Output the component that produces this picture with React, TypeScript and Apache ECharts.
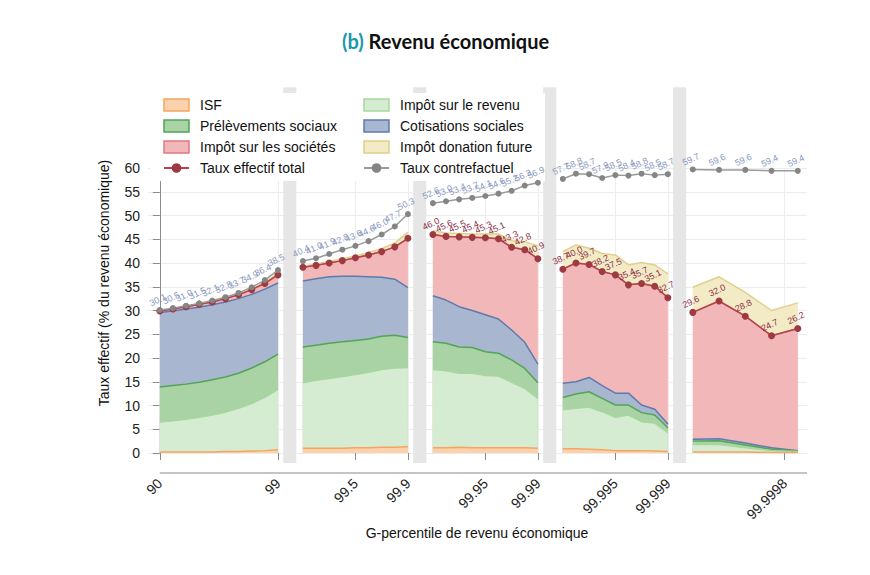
import React, { useEffect, useRef } from "react";
import * as echarts from "echarts";

// ---- x positions (g-percentiles) per panel ----
const panelPercentiles: number[][] = [
  [90, 91, 92, 93, 94, 95, 96, 97, 98, 99],
  [99.1, 99.2, 99.3, 99.4, 99.5, 99.6, 99.7, 99.8, 99.9],
  [99.91, 99.92, 99.93, 99.94, 99.95, 99.96, 99.97, 99.98, 99.99],
  [99.991, 99.992, 99.993, 99.994, 99.995, 99.996, 99.997, 99.998, 99.999],
  [99.9991, 99.9993, 99.9995, 99.9997, 99.9999],
];
// piecewise scale: each panel is zoomed by 10x
const panelStart = [90, 99, 99.9, 99.99, 99.999];
const panelEnd = [99, 99.9, 99.99, 99.999, 100];
const panelStep = [1, 0.1, 0.01, 0.001, 0.0001];
const panelOffset = [0, 9.9, 19.8, 29.7, 39.6];

const tickPercentiles = [90, 99, 99.5, 99.9, 99.95, 99.99, 99.995, 99.999, 99.9998];
const tickLabels = ["90", "99", "99.5", "99.9", "99.95", "99.99", "99.995", "99.999", "99.9998"];

// ---- series values (% of economic income), per panel ----
const isf = [
  [0.2, 0.2, 0.2, 0.2, 0.2, 0.3, 0.3, 0.4, 0.5, 0.7],
  [1.0, 1.0, 1.0, 1.0, 1.1, 1.1, 1.2, 1.2, 1.3],
  [1.1, 1.1, 1.2, 1.1, 1.1, 1.1, 1.1, 1.1, 1.0],
  [0.9, 0.9, 0.8, 0.7, 0.5, 0.5, 0.5, 0.4, 0.3],
  [0.2, 0.2, 0.2, 0.1, 0.1],
];
const impotRevenu = [
  [6.3, 6.6, 6.9, 7.3, 7.8, 8.3, 9.1, 10.0, 11.2, 12.7],
  [13.8, 14.3, 14.7, 15.1, 15.4, 15.9, 16.4, 16.7, 16.7],
  [16.5, 16.2, 15.6, 15.7, 15.2, 15.1, 13.8, 12.5, 10.5],
  [8.2, 8.5, 8.9, 8.0, 7.0, 7.5, 6.1, 5.9, 4.0],
  [1.6, 1.6, 0.9, 0.4, 0.2],
];
const prelevSociaux = [
  [7.4, 7.4, 7.4, 7.4, 7.4, 7.4, 7.4, 7.5, 7.5, 7.4],
  [7.5, 7.4, 7.4, 7.3, 7.2, 7.0, 7.0, 6.9, 6.3],
  [5.8, 5.8, 5.5, 5.4, 5.0, 4.8, 4.7, 4.2, 3.3],
  [2.6, 3.0, 3.2, 2.8, 2.6, 2.1, 1.9, 1.7, 1.0],
  [0.7, 0.8, 0.6, 0.3, 0.1],
];
const cotisSociales = [
  [15.7, 15.7, 15.8, 15.8, 15.8, 15.8, 15.7, 15.5, 15.3, 15.0],
  [13.9, 14.0, 14.0, 13.8, 13.5, 13.1, 12.4, 11.8, 10.5],
  [9.7, 9.1, 8.5, 7.8, 7.8, 7.2, 6.3, 5.5, 3.9],
  [3.0, 2.6, 3.0, 2.7, 2.5, 2.5, 1.6, 1.2, 0.8],
  [0.4, 0.4, 0.4, 0.3, 0.1],
];
const impotSocietes = [
  [0.3, 0.4, 0.5, 0.6, 0.6, 0.7, 0.8, 1.0, 1.2, 1.7],
  [2.9, 2.8, 2.9, 3.3, 3.9, 4.6, 5.4, 6.8, 10.4],
  [12.9, 13.4, 14.7, 15.4, 16.2, 16.9, 17.4, 19.5, 22.2],
  [24.0, 25.0, 23.8, 24.0, 24.9, 22.8, 25.6, 25.9, 26.6],
  [26.7, 29.0, 26.7, 23.6, 25.7],
];
const donationFuture = [
  [0.1, 0.1, 0.1, 0.1, 0.1, 0.1, 0.1, 0.2, 0.2, 0.3],
  [0.2, 0.3, 0.3, 0.4, 0.4, 0.5, 0.6, 0.8, 1.3],
  [0.8, 0.7, 0.7, 0.7, 0.8, 1.0, 1.4, 1.7, 2.7],
  [3.7, 3.8, 3.4, 3.8, 4.2, 4.2, 4.4, 4.5, 5.0],
  [5.3, 5.1, 5.0, 5.3, 5.4],
];
const tauxEffectifTotal = [
  [29.9, 30.3, 30.8, 31.3, 31.8, 32.5, 33.3, 34.4, 35.7, 37.5],
  [39.1, 39.5, 40.0, 40.5, 41.1, 41.7, 42.4, 43.4, 45.2],
  [46.0, 45.6, 45.5, 45.4, 45.3, 45.1, 43.3, 42.8, 40.9],
  [38.7, 40.0, 39.7, 38.2, 37.5, 35.4, 35.7, 35.1, 32.7],
  [29.6, 32.0, 28.8, 24.7, 26.2],
];
const tauxContrefactuel = [
  [30.1, 30.5, 31.0, 31.5, 32.1, 32.8, 33.7, 34.9, 36.4, 38.5],
  [40.4, 41.0, 41.9, 42.8, 43.6, 44.6, 46.0, 47.7, 50.3],
  [52.6, 53.0, 53.4, 53.7, 54.1, 54.6, 55.2, 56.3, 56.9],
  [57.7, 58.8, 58.7, 57.9, 58.5, 58.4, 58.8, 58.5, 58.7],
  [59.7, 59.6, 59.6, 59.4, 59.4],
];
const totalLabelShown = [false, false, true, true, true];

const FONT = "'Liberation Sans', Arial, sans-serif";
const X_MIN = -0.9;
const X_MAX = 49.3;

const layerDefs = [
  { name: "ISF", values: isf, fill: "#fdd1ab", stroke: "#f6a560" },
  { name: "Impôt sur le revenu", values: impotRevenu, fill: "#d5ecd2", stroke: "#a6d89c" },
  { name: "Prélèvements sociaux", values: prelevSociaux, fill: "#a9d3a4", stroke: "#52a555" },
  { name: "Cotisations sociales", values: cotisSociales, fill: "#a8b6cf", stroke: "#5d7bad" },
  { name: "Impôt sur les sociétés", values: impotSocietes, fill: "#f2b7b9", stroke: "#e27a80" },
  { name: "Impôt donation future", values: donationFuture, fill: "#f3ebc6", stroke: "#dfd08c" },
];

function panelOf(p: number): number {
  for (let k = 0; k < panelEnd.length; k++) if (p <= panelEnd[k] + 1e-9) return k;
  return panelEnd.length - 1;
}
function toU(k: number, p: number): number {
  return panelOffset[k] + (p - panelStart[k]) / panelStep[k];
}

function build(values: number[][], labelPanels?: boolean[]) {
  const out: any[] = [];
  values.forEach((arr, k) => {
    if (k > 0) out.push([panelOffset[k], null]);
    arr.forEach((v, i) => {
      const pt = [toU(k, panelPercentiles[k][i]), v];
      if (labelPanels) out.push({ value: pt, label: { show: labelPanels[k] } });
      else out.push(pt);
    });
  });
  return out;
}

// cumulative tops of the stacked layers (sum of the layers below + own)
function cumulative(upTo: number): number[][] {
  return panelPercentiles.map((arr, k) =>
    arr.map((_, i) => {
      let s = 0;
      for (let j = 0; j <= upTo; j++) s += layerDefs[j].values[k][i];
      return Math.round(s * 100) / 100;
    })
  );
}

const tickU = tickPercentiles.map((p) => toU(panelOf(p), p));

export default function App() {
  const ref = useRef<HTMLDivElement>(null);
  useEffect(() => {
    document.body.style.margin = "0";
    const chart = echarts.init(ref.current!, undefined, { renderer: "svg" });

    // draw from the top layer down, each area filled to 0, so lower layers cover upper ones
    const areaSeries = layerDefs
      .map((d, j) => ({
        name: d.name,
        type: "line",
        data: build(cumulative(j)),
        symbol: "none",
        connectNulls: false,
        lineStyle: { color: d.stroke, width: 1.5 },
        itemStyle: { color: d.fill, borderColor: d.stroke },
        areaStyle: { color: d.fill, opacity: 1, origin: 0 },
        z: 2,
      }))
      .reverse();

    const legendText = { fontSize: 14, fontFamily: FONT, color: "#111", lineHeight: 14, padding: [0, 0, 0, 6] };
    const legIcon = (i: number) => ({
      name: layerDefs[i].name,
      icon: "rect",
      itemStyle: { color: layerDefs[i].fill, borderColor: layerDefs[i].stroke, borderWidth: 1.5 },
    });

    const option: any = {
      animation: false,
      title: {
        text: "{a|(b)} {b|Revenu économique}",
        left: 337,
        top: 26,
        textStyle: {
          fontSize: 20,
          fontFamily: "Lato",
          fontWeight: "bold",
          rich: {
            a: { color: "#1a97ad", fontSize: 20, fontWeight: "bold", fontFamily: "Lato" },
            b: { color: "#111", fontSize: 20, fontWeight: "bold", fontFamily: "Lato" },
          },
        },
      },
      grid: { left: 148, right: 63, top: 168, bottom: 122, containLabel: false },
      xAxis: {
        type: "value",
        min: X_MIN,
        max: X_MAX,
        offset: 20,
        axisLine: { show: false },
        axisTick: { show: true, length: 7, customValues: tickU, lineStyle: { color: "#8c8c8c" } },
        axisLabel: {
          customValues: tickU,
          rotate: 45,
          margin: 8,
          fontSize: 14,
          fontFamily: FONT,
          color: "#222",
          formatter: (val: number) => {
            let best = 0;
            tickU.forEach((u, i) => {
              if (Math.abs(u - val) < Math.abs(tickU[best] - val)) best = i;
            });
            return tickLabels[best];
          },
        },
        splitLine: { show: true, lineStyle: { color: "#ededed", width: 1 } },
      },
      yAxis: {
        type: "value",
        min: 0,
        max: 60,
        interval: 5,
        axisLine: { show: true, lineStyle: { color: "#8c8c8c" } },
        axisTick: { show: true, length: 7, lineStyle: { color: "#8c8c8c" } },
        axisLabel: { fontSize: 14, fontFamily: FONT, color: "#222", margin: 8 },
        splitLine: { show: true, lineStyle: { color: "#ececec", width: 1 } },
      },
      legend: [
        {
          orient: "vertical",
          left: 163,
          top: 98,
          itemWidth: 25,
          itemHeight: 12,
          itemGap: 7,
          padding: 0,
          z: 10,
          textStyle: legendText,
          data: [legIcon(0), legIcon(2), legIcon(4), { name: "Taux effectif total" }],
        },
        {
          orient: "vertical",
          left: 363,
          top: 98,
          itemWidth: 25,
          itemHeight: 12,
          itemGap: 7,
          padding: 0,
          z: 10,
          textStyle: legendText,
          data: [legIcon(1), legIcon(3), legIcon(5), { name: "Taux contrefactuel" }],
        },
      ],
      graphic: [
        { type: "rect", z: 3, shape: { x: 150, y: 93, width: 395, height: 88 }, style: { fill: "#fff" }, silent: true },
        {
          type: "text",
          x: 104,
          y: 283,
          rotation: Math.PI / 2,
          style: {
            text: "Taux effectif (% du revenu économique)",
            fontSize: 14,
            fontFamily: FONT,
            fill: "#111",
            align: "center",
            verticalAlign: "middle",
          },
        },
        {
          type: "text",
          x: 477,
          y: 533,
          style: {
            text: "G-percentile de revenu économique",
            fontSize: 14,
            fontFamily: FONT,
            fill: "#111",
            align: "center",
            verticalAlign: "middle",
          },
        },
      ],
      series: [
        {
          name: "bands",
          type: "custom",
          z: 1,
          clip: false,
          silent: true,
          data: panelOffset.slice(1).map((u) => [u, 0]),
          renderItem: (params: any, api: any) => {
            const u = api.value(0);
            const a = api.coord([u - 0.5, 77]);
            const b = api.coord([u + 0.5, -2.1]);
            return {
              type: "rect",
              shape: { x: a[0], y: a[1], width: b[0] - a[0], height: b[1] - a[1] },
              style: { fill: "#e6e6e6" },
            };
          },
        },
        {
          name: "xaxisline",
          type: "custom",
          z: 1,
          clip: false,
          silent: true,
          data: [[0, 0]],
          renderItem: (params: any, api: any) => {
            const a = api.coord([0, 0]);
            const b = api.coord([X_MAX, 0]);
            return {
              type: "line",
              shape: { x1: a[0], y1: a[1] + 20, x2: b[0], y2: b[1] + 20 },
              style: { stroke: "#8c8c8c", lineWidth: 1.2 },
            };
          },
        },
        ...areaSeries,
        {
          name: "Taux effectif total",
          type: "line",
          data: build(tauxEffectifTotal, totalLabelShown),
          symbol: "circle",
          symbolSize: 7,
          connectNulls: false,
          lineStyle: { color: "#b4444c", width: 1.5 },
          itemStyle: { color: "#9e3a42" },
          z: 4,
          label: {
            show: false,
            position: "top",
            distance: 3,
            rotate: 25,
            fontSize: 9,
            fontFamily: FONT,
            color: "#8b2f4a",
            formatter: (p: any) => Number(p.value[1]).toFixed(1),
          },
        },
        {
          name: "Taux contrefactuel",
          type: "line",
          data: build(tauxContrefactuel),
          symbol: "circle",
          symbolSize: 6,
          connectNulls: false,
          lineStyle: { color: "#9a9a9a", width: 1.5 },
          itemStyle: { color: "#858585" },
          z: 5,
          label: {
            show: true,
            position: "top",
            distance: 3,
            rotate: 25,
            fontSize: 9,
            fontFamily: FONT,
            color: "#8a98bf",
            formatter: (p: any) => Number(p.value[1]).toFixed(1),
          },
        },
      ],
    };
    chart.setOption(option);
    return () => chart.dispose();
  }, []);
  return <div ref={ref} style={{ width: 870, height: 575 }} />;
}
